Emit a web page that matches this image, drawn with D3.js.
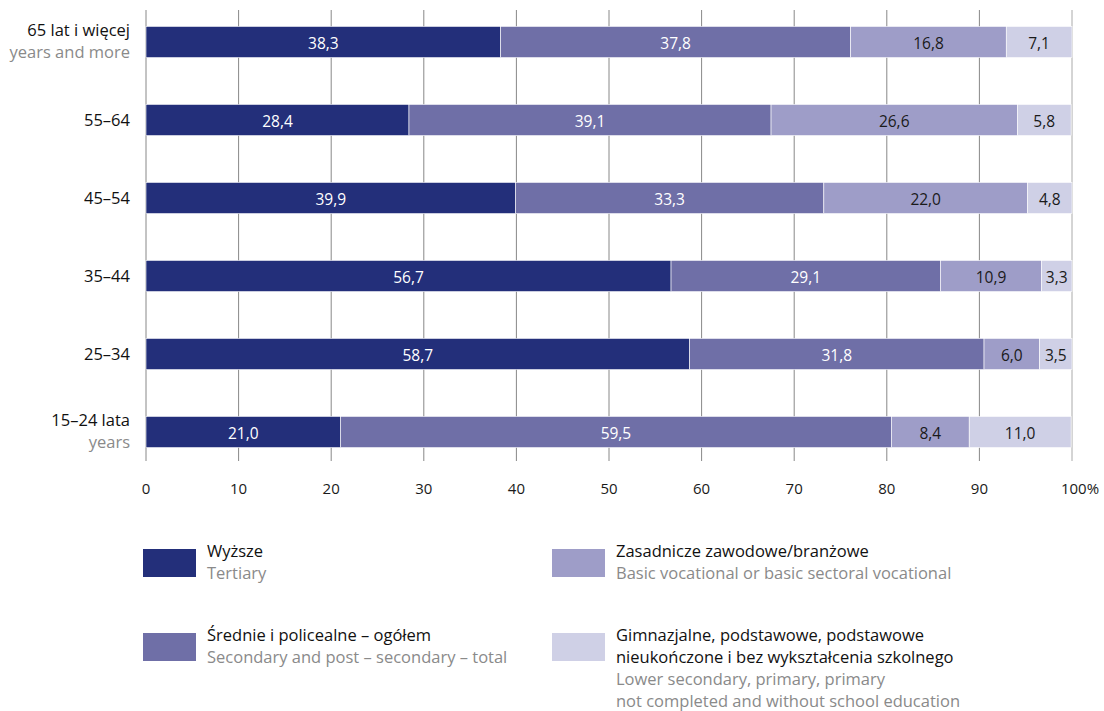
<!DOCTYPE html>
<html>
<head>
<meta charset="utf-8">
<script src="https://cdn.jsdelivr.net/npm/d3@7"></script>
<style>
  body { margin: 0; background: #fff; }
  svg text { font-family: 'Open Sans', sans-serif; }
</style>
</head>
<body>
<svg id="chart" width="1104" height="711"></svg>
<script>
// age groups, top to bottom
const groupsPl = ['65 lat i więcej', '55–64', '45–54', '35–44', '25–34', '15–24 lata'];
const groupsEn = ['years and more', '', '', '', '', 'years'];

const tertiary   = [38.3, 28.4, 39.9, 56.7, 58.7, 21.0];
const secondary  = [37.8, 39.1, 33.3, 29.1, 31.8, 59.5];
const vocational = [16.8, 26.6, 22.0, 10.9, 6.0, 8.4];
const lower      = [7.1, 5.8, 4.8, 3.3, 3.5, 11.0];

const ticks = [0, 10, 20, 30, 40, 50, 60, 70, 80, 90, 100];

const seriesPl = ['Wyższe', 'Średnie i policealne – ogółem', 'Zasadnicze zawodowe/branżowe',
  'Gimnazjalne, podstawowe, podstawowe|nieukończone i bez wykształcenia szkolnego'];
const seriesEn = ['Tertiary', 'Secondary and post – secondary – total',
  'Basic vocational or basic sectoral vocational',
  'Lower secondary, primary, primary|not completed and without school education'];

const colores = ['#232f7a', '#6f6fa7', '#9e9dc8', '#cfd0e6'];
const textCol = ['#fff', '#fff', '#1a1a1a', '#1a1a1a'];

const svg = d3.select('#chart');
const keys = ['t', 's', 'v', 'l'];
const rows = groupsPl.map((g, i) => ({g: g, t: tertiary[i], s: secondary[i], v: vocational[i], l: lower[i]}));

const x = d3.scaleLinear().domain([0, 100]).range([146, 1072]);
const y = d3.scaleBand().domain(groupsPl).range([3, 471]).paddingInner(0.6).paddingOuter(0.3);

// gridlines
svg.append('g').selectAll('line')
  .data(ticks).enter().append('line')
  .attr('x1', d => x(d)).attr('x2', d => x(d))
  .attr('y1', 10).attr('y2', 461)
  .attr('stroke', d => d == 100 ? '#aaa' : '#888')
  .attr('stroke-width', 1);

// tick labels
svg.append('g').selectAll('text')
  .data(ticks).enter().append('text')
  .attr('x', d => x(d)).attr('y', 494)
  .attr('text-anchor', 'middle')
  .attr('dx', d => d == 100 ? 8 : 0)
  .style('font-size', '15px').attr('fill', '#1a1a1a')
  .text(d => d == 100 ? '100%' : d);

const stack = d3.stack().keys(keys)(rows);

const layers = svg.append('g').selectAll('g')
  .data(stack).enter().append('g')
  .attr('fill', (d, i) => colores[i]);

layers.selectAll('rect')
  .data(d => d).enter().append('rect')
  .attr('x', d => x(d[0]))
  .attr('width', d => x(d[1]) - x(d[0]))
  .attr('y', d => y(d.data.g))
  .attr('height', y.bandwidth())
  .attr('stroke', '#fff').attr('stroke-width', 0.6);

stack.forEach((layer, i) => {
  svg.append('g').selectAll('text')
    .data(layer).enter().append('text')
    .attr('x', d => x((d[0] + d[1]) / 2))
    .attr('y', d => y(d.data.g) + y.bandwidth() / 2 + 7)
    .attr('text-anchor', 'middle')
    .style('font-size', '15.5px')
    .attr('fill', textCol[i])
    .text(d => d3.format('.1f')(d[1] - d[0]).replace('.', ','));
});

// category labels
groupsPl.forEach((g, i) => {
  const yc = y(g) + y.bandwidth() / 2;
  const two = groupsEn[i] != '';
  svg.append('text')
    .attr('x', 130).attr('y', two ? yc - 6 : yc + 6)
    .attr('text-anchor', 'end').style('font-size', '16.5px').attr('fill', '#111')
    .text(g);
  if (two) {
    svg.append('text')
      .attr('x', 130).attr('y', yc + 16)
      .attr('text-anchor', 'end').style('font-size', '16.5px').attr('fill', '#8a8a8a')
      .text(groupsEn[i]);
  }
});

// legend
const legPos = [[143, 549], [143, 633], [552, 549], [552, 633]];
seriesPl.forEach((s, i) => {
  const lg = svg.append('g').attr('transform', 'translate(' + legPos[i][0] + ',' + legPos[i][1] + ')');
  lg.append('rect').attr('width', 53).attr('height', 28).attr('fill', colores[i]);
  let ly = 8;
  s.split('|').forEach(t => {
    lg.append('text').attr('x', 64).attr('y', ly).style('font-size', '16.5px').attr('fill', '#111').text(t);
    ly += 22;
  });
  seriesEn[i].split('|').forEach(t => {
    lg.append('text').attr('x', 64).attr('y', ly).style('font-size', '16.5px').attr('fill', '#8a8a8a').text(t);
    ly += 22;
  });
});
</script>
</body>
</html>
